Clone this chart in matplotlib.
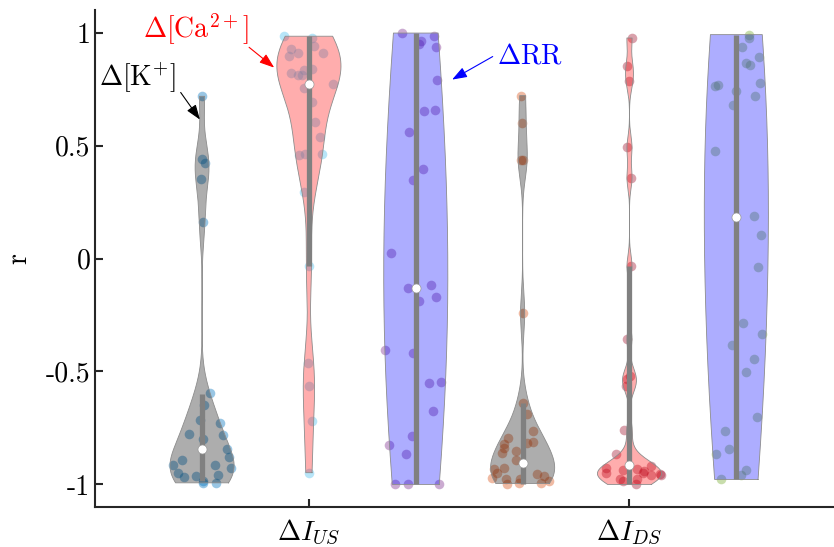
import numpy as np
import matplotlib
matplotlib.use('Agg')
import matplotlib.pyplot as plt

plt.rcParams['font.family'] = 'cmr10'
plt.rcParams['mathtext.fontset'] = 'cm'
plt.rcParams['axes.formatter.use_mathtext'] = True
plt.rcParams['font.size'] = 20

# correlation values per violin and horizontal jitter
r_k_us = [0.718, 0.441, 0.423, 0.350, 0.162, -0.597, -0.649, -0.715, -0.727, -0.776, -0.782, -0.798, -0.845,
          -0.878, -0.894, -0.913, -0.913, -0.929, -0.951, -0.960, -0.963, -0.967, -0.985, -0.993, -0.993]
j_k_us = [0, 0, 0.025, -0.013, 0.013, 0.075, 0.022, -0.019, 0.169, -0.119, 0.194, 0.013, 0.238,
          0.256, -0.191, -0.275, 0.119, 0.275, -0.222, 0.15, -0.056, -0.169, 0.006, 0.013, 0.131]

r_ca_us = [0.984, 0.976, 0.939, 0.928, 0.898, 0.910, 0.910, 0.819, 0.814, 0.814, 0.836, 0.839, 0.755,
           0.774, 0.692, 0.603, 0.538, 0.456, 0.463, 0.463, 0.293, -0.034, -0.462, -0.565, -0.720, -0.948]
j_ca_us = [-0.231, 0.028, 0.05, -0.169, -0.191, -0.106, 0.128, -0.169, -0.106, -0.066, -0.044, 0.028, -0.044,
           0.222, 0.028, 0.059, 0.106, -0.097, -0.034, 0.122, -0.044, 0.003, -0.013, 0.003, 0.028, 0.003]

r_rr_us = [0.998, 0.962, 0.951, 0.984, 0.937, 0.788, 0.652, 0.659, 0.562, 0.398, 0.348, 0.025, -0.130, -0.118,
           -0.170, -0.186, -0.407, -0.417, -0.553, -0.547, -0.676, -0.786, -0.827, -0.867, -1.0, -1.0, -1.0]
j_rr_us = [-0.128, 0.05, 0.034, 0.169, 0.191, 0.2, 0.075, 0.181, -0.059, 0.066, -0.022, -0.231, -0.069, 0.144,
           0.191, 0.034, -0.288, -0.022, 0.122, 0.238, 0.163, -0.038, -0.253, -0.091, -0.194, -0.075, 0.216]

r_k_ds = [0.721, 0.600, 0.438, 0.438, -0.243, -0.639, -0.690, -0.764, -0.793, -0.813, -0.819, -0.816, -0.840, -0.853,
          -0.863, -0.894, -0.926, -0.931, -0.948, -0.956, -0.963, -0.970, -0.975, -0.978, -0.985, -0.993, -0.996, -0.993]
j_k_ds = [-0.019, -0.003, -0.019, 0.006, 0.006, 0.006, 0.038, 0.097, -0.138, 0.1, -0.175, 0.044, -0.175, -0.066,
          -0.191, -0.066, -0.175, -0.269, -0.238, 0.138, 0.2, -0.284, -0.025, -0.159, 0.247, 0.169, -0.15, -0.034]

r_ca_ds = [0.976, 0.851, 0.785, 0.492, 0.357, -0.034, -0.358, -0.520, -0.535, -0.565, -0.760, -0.867, -0.919,
           -0.926, -0.931, -0.934, -0.941, -0.948, -0.951, -0.956, -0.960, -0.960, -0.975, -0.978, -0.985, -1.0]
j_ca_ds = [0.028, -0.019, -0.003, -0.019, 0.013, 0.013, -0.022, 0.006, -0.019, -0.028, -0.053, -0.122, 0.2,
           -0.216, 0.072, -0.059, 0.134, 0.128, -0.216, 0.284, 0.206, 0.291, 0.066, -0.091, -0.059, 0.059]

r_rr_ds = [0.991, 0.976, 0.935, 0.866, 0.855, 0.892, 0.777, 0.721, 0.763, 0.770, 0.743, 0.678, 0.478, 0.187,
           0.106, -0.038, -0.285, -0.332, -0.381, -0.444, -0.502, -0.702, -0.764, -0.865, -0.841, -0.934, -0.959, -0.978]
j_rr_ds = [0.122, 0.122, 0.053, 0.091, 0.128, 0.216, 0.222, 0.175, -0.2, -0.175, -0.003, -0.034, -0.2, 0.169,
           0.231, 0.2, 0.059, 0.238, -0.044, 0.163, 0.088, 0.194, -0.103, -0.188, -0.072, 0.091, 0.044, -0.144]

groups = [r_k_us, r_ca_us, r_rr_us, r_k_ds, r_ca_ds, r_rr_ds]
jitter = [j_k_us, j_ca_us, j_rr_us, j_k_ds, j_ca_ds, j_rr_ds]
medians = [-0.845, 0.774, -0.130, -0.904, -0.912, 0.184]
bar_lo = [-0.985, -0.034, -1.0, -1.0, -1.0, -0.978]
bar_hi = [-0.600, 0.984, 0.998, -0.639, -0.034, 0.991]

violin_colors = ['k', 'r', 'b', 'k', 'r', 'b']
point_colors = ['#0072BD', '#4DBEEE', '#7E2F8E', '#D95319', '#A2142F', '#77AC30']
bw_scale = [1.0, 1.0, 1.5, 1.0, 1.0, 1.6]
xtick_labels = [r'$\Delta I_{US}$', r'$\Delta I_{DS}$']


def ksdensity(d, grid, scale=1.0):
    # matlab-like default bandwidth
    n = len(d)
    sig = np.median(np.abs(d - np.median(d))) / 0.6745
    bw = scale * sig * (4.0 / (3.0 * n)) ** 0.2
    z = (grid[:, None] - d[None, :]) / bw
    return np.exp(-0.5 * z ** 2).sum(axis=1) / (n * bw * np.sqrt(2 * np.pi))


fig = plt.figure(figsize=(8.34, 5.47), dpi=100)
ax = fig.add_axes([95.2 / 834, 0.0731, 748 / 834, 0.9086])

for i, (d, jit) in enumerate(zip(groups, jitter)):
    pos = i + 1
    d = np.array(d)
    grid = np.linspace(d.min(), d.max(), 300)
    dens = ksdensity(d, grid, bw_scale[i])
    w = dens / dens.max() * 0.3

    ax.scatter(pos + np.array(jit), d, s=48, color=point_colors[i], alpha=0.4, lw=0, zorder=1)
    ax.fill_betweenx(grid, pos - w, pos + w, facecolor=violin_colors[i], alpha=0.32, lw=0, zorder=2)
    xs = np.concatenate([pos + w, (pos - w)[::-1], [pos + w[0]]])
    ys = np.concatenate([grid, grid[::-1], [grid[0]]])
    ax.plot(xs, ys, color='0.55', lw=0.6, zorder=2)
    ax.plot([pos, pos], [bar_lo[i], bar_hi[i]], color='0.5', lw=3.8, solid_capstyle='butt', zorder=3)
    ax.plot(pos, medians[i], 'o', ms=6.5, mfc='white', mec='0.6', mew=0.5, zorder=4)

# labels on the violins
arrow_style = '-|>,head_length=0.5,head_width=0.18'
labels = [(r'$\Delta[\mathrm{Ca}^{2+}]$', 'r', (0.945, 1.013), (1.44, 0.935), (1.675, 0.845)),
          (r'$\Delta[\mathrm{K}^{+}]$', 'k', (0.40, 0.801), (0.80, 0.735), (0.98, 0.615)),
          (r'$\Delta\mathrm{RR}$', 'b', (4.07, 0.894), (3.72, 0.894), (3.34, 0.792))]
for txt, c, tpos, tail, head in labels:
    ax.text(tpos[0], tpos[1], txt, color=c, ha='center', va='center', fontsize=20)
    ax.annotate('', xy=head, xytext=tail,
                arrowprops=dict(arrowstyle=arrow_style, color=c, lw=0.8, mutation_scale=18,
                                shrinkA=0, shrinkB=0))

ax.set_xlim(0, 7)
ax.set_ylim(-1.1, 1.1)
ax.set_xticks([2, 5])
ax.set_xticklabels(xtick_labels)
ax.set_yticks([-1, -0.5, 0, 0.5, 1])
ax.set_yticklabels(['-1', '-0.5', '0', '0.5', '1'])
ax.set_ylabel('r', labelpad=10)

for s in ['top', 'right']:
    ax.spines[s].set_visible(False)
for s in ['left', 'bottom']:
    ax.spines[s].set_linewidth(1.5)
    ax.spines[s].set_color('0.15')
ax.tick_params(direction='in', length=6, width=1.5, color='0.15', labelsize=20)
ax.tick_params(axis='x', pad=8)

fig.savefig('out.png', dpi=100)
